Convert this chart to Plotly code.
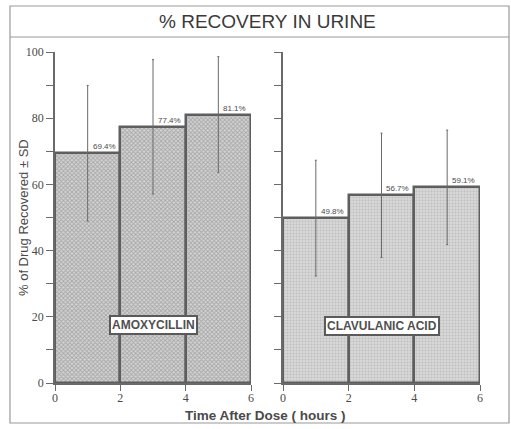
import plotly.graph_objects as go

# ---- data ----
time_mid = [1, 3, 5]
time_ticks = [0, 2, 4, 6]
amox_values = [69.4, 77.4, 81.1]
amox_sd = [20.5, 20.3, 17.5]
clav_values = [49.8, 56.7, 59.1]
clav_sd = [17.5, 18.8, 17.3]
amox_labels = ["69.4%", "77.4%", "81.1%"]
clav_labels = ["49.8%", "56.7%", "59.1%"]
y_ticks = list(range(0, 101, 10))
y_ticktext = [str(v) if v % 20 == 0 else "" for v in y_ticks]

W, H = 511, 429
TXT = "#4a4a4a"
LN = "#6a6a6a"

def px(xp):
    return xp / W

def py(yp):
    return 1 - yp / H

fig = go.Figure()

fig.add_trace(go.Bar(
    x=time_mid, y=amox_values, width=2,
    marker=dict(color="#d2d2d2",
                line=dict(color="#5e5e5e", width=2.5),
                pattern=dict(shape="x", fgcolor="#7a7a7a", bgcolor="#d4d4d4", size=3, solidity=0.5)),
    error_y=dict(type="data", array=amox_sd, visible=True, color="#6a6a6a", thickness=1, width=1),
    xaxis="x", yaxis="y", showlegend=False))

fig.add_trace(go.Bar(
    x=time_mid, y=clav_values, width=2,
    marker=dict(color="#d0d0d0",
                line=dict(color="#5e5e5e", width=2.5),
                pattern=dict(shape=".", fgcolor="#a8a8a8", bgcolor="#d8d8d8", size=3, solidity=0.4)),
    error_y=dict(type="data", array=clav_sd, visible=True, color="#6a6a6a", thickness=1, width=1),
    xaxis="x2", yaxis="y2", showlegend=False))

axis_common = dict(showline=True, linecolor=LN, linewidth=1.5, ticks="outside",
                   tickcolor=LN, tickwidth=1.2, showgrid=False, zeroline=False,
                   automargin=False,
                   tickfont=dict(family="Liberation Sans Narrow", size=12, color=TXT))
x_extra = dict(ticklen=6, ticklabelstandoff=-3)
y_extra = dict(ticklen=7)

fig.update_layout(
    width=W, height=H,
    margin=dict(l=0, r=0, t=0, b=0, autoexpand=False),
    paper_bgcolor="white", plot_bgcolor="white",
    bargap=0,
    xaxis=dict(domain=[px(55), px(251)], range=[0, 6], tickvals=time_ticks, anchor="y",
               **axis_common, **x_extra),
    yaxis=dict(domain=[py(383), py(52)], range=[0, 100], tickvals=y_ticks, ticktext=y_ticktext,
               anchor="x", **axis_common, **y_extra),
    xaxis2=dict(domain=[px(283), px(480)], range=[0, 6], tickvals=time_ticks, anchor="y2",
                **axis_common, **x_extra),
    yaxis2=dict(domain=[py(383), py(52)], range=[0, 100], tickvals=y_ticks, showticklabels=False,
                anchor="x2", **axis_common, **y_extra),
)

annotations = []
for xm, v, t in zip(time_mid, amox_values, amox_labels):
    annotations.append(dict(x=xm + 0.5, y=v, xref="x", yref="y", text=t, showarrow=False,
                            xanchor="center", yanchor="bottom", yshift=0,
                            font=dict(family="Liberation Sans", size=8, color=TXT)))
for xm, v, t in zip(time_mid, clav_values, clav_labels):
    annotations.append(dict(x=xm + 0.5, y=v, xref="x2", yref="y2", text=t, showarrow=False,
                            xanchor="center", yanchor="bottom", yshift=0,
                            font=dict(family="Liberation Sans", size=8, color=TXT)))

annotations.append(dict(x=3, y=17.5, xref="x", yref="y", text="<b>AMOXYCILLIN</b>", showarrow=False,
                        xanchor="center", yanchor="middle",
                        bgcolor="white", bordercolor="#5a5a5a", borderwidth=2, borderpad=1,
                        font=dict(family="Liberation Sans", size=12, color="#505050")))
annotations.append(dict(x=3, y=17.2, xref="x2", yref="y2", text="<b>CLAVULANIC ACID</b>", showarrow=False,
                        xanchor="center", yanchor="middle",
                        bgcolor="white", bordercolor="#5a5a5a", borderwidth=2, borderpad=1,
                        font=dict(family="Liberation Sans", size=12, color="#505050")))

annotations.append(dict(x=px(267), y=py(21), xref="paper", yref="paper", text="% RECOVERY IN URINE",
                        showarrow=False, xanchor="center", yanchor="middle",
                        font=dict(family="Liberation Sans", size=19, color="#3a3a3a")))
annotations.append(dict(x=px(23), y=py(218), xref="paper", yref="paper", text="% of Drug Recovered ± SD",
                        showarrow=False, textangle=-90, xanchor="center", yanchor="middle",
                        font=dict(family="Liberation Sans", size=13, color=TXT)))
annotations.append(dict(x=px(265), y=py(415), xref="paper", yref="paper", text="<b>Time After Dose ( hours )</b>",
                        showarrow=False, xanchor="center", yanchor="middle",
                        font=dict(family="Liberation Sans", size=13.5, color=TXT)))

fig.update_layout(annotations=annotations)

fig.update_layout(shapes=[
    dict(type="rect", xref="paper", yref="paper", x0=px(10), x1=px(509), y0=py(423), y1=py(6),
         line=dict(color="#999999", width=1.2)),
    dict(type="line", xref="paper", yref="paper", x0=px(10), x1=px(509), y0=py(37), y1=py(37),
         line=dict(color="#999999", width=1.2)),
])

fig.write_html("out.html", config={"displayModeBar": False},
               post_script="document.body.style.margin='0';document.body.style.padding='0';")
